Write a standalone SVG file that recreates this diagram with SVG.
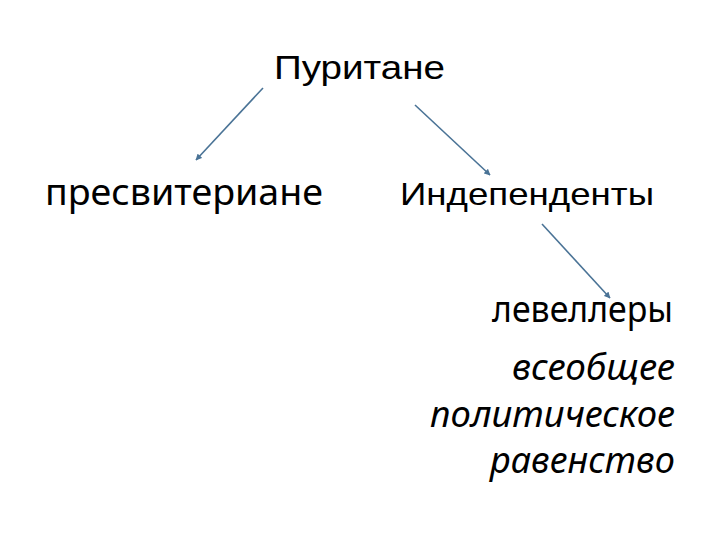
<svg xmlns="http://www.w3.org/2000/svg" width="720" height="540" viewBox="0 0 720 540">
<defs>
<style>
.a{font-family:"Liberation Sans",Arial,sans-serif;fill:#000}
.c{font-family:"Noto Sans","Open Sans",sans-serif;fill:#000}
.i{font-family:"Noto Sans","Open Sans",sans-serif;font-style:italic;fill:#000}
.ln{stroke:#4a7396;stroke-width:1.6;fill:none;marker-end:url(#ah)}
</style>
<marker id="ah" viewBox="0 0 10 10" refX="9" refY="5" markerWidth="4" markerHeight="4" orient="auto" markerUnits="strokeWidth">
<path d="M0,0 L10,5 L0,10 z" fill="#4a7396"/>
</marker>
</defs>
<rect width="720" height="540" fill="#fff"/>
<g id="connectors">
<line class="ln" x1="263" y1="88" x2="196" y2="160"/>
<line class="ln" x1="415" y1="105" x2="490" y2="175"/>
<line class="ln" x1="542" y1="224" x2="610" y2="298"/>
</g>
<g id="puritane"><text class="a" x="274" y="79" font-size="34" textLength="171" lengthAdjust="spacingAndGlyphs">Пуритане</text></g>
<g id="presviteriane"><text class="c" x="45" y="205" font-size="36" textLength="278" lengthAdjust="spacingAndGlyphs">пресвитериане</text></g>
<g id="independenty"><text class="a" x="400" y="205" font-size="32" textLength="254" lengthAdjust="spacingAndGlyphs">Индепенденты</text></g>
<g id="levellery"><text class="c" x="492" y="322" font-size="36" textLength="181" lengthAdjust="spacingAndGlyphs">левеллеры</text></g>
<g id="slogan">
<text class="i" x="512" y="380" font-size="36" textLength="163" lengthAdjust="spacingAndGlyphs">всеобщее</text>
<text class="i" x="430" y="427" font-size="36" textLength="245" lengthAdjust="spacingAndGlyphs">политическое</text>
<text class="i" x="490" y="473" font-size="36" textLength="185" lengthAdjust="spacingAndGlyphs">равенство</text>
</g>
</svg>
